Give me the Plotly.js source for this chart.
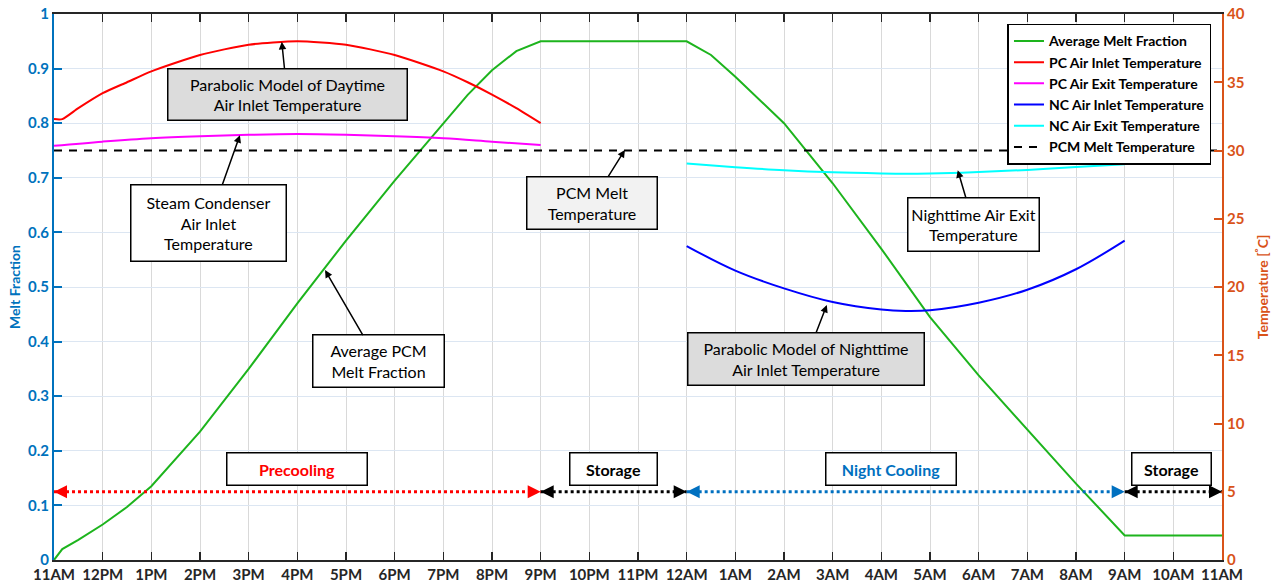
<!DOCTYPE html>
<html>
<head>
<meta charset="utf-8">
<script src="https://cdn.plot.ly/plotly-3.0.1.min.js"></script>
<style>html,body{margin:0;padding:0;background:#fff}#chart{width:1281px;height:582px}</style>
</head>
<body>
<div id="chart"></div>
<script>
// ---- data (hours after 11AM) ----
const tickLabels = ['11AM','12PM','1PM','2PM','3PM','4PM','5PM','6PM','7PM','8PM','9PM','10PM','11PM',
  '12AM','1AM','2AM','3AM','4AM','5AM','6AM','7AM','8AM','9AM','10AM','11AM'];
const fracTicks = [0, 0.1, 0.2, 0.3, 0.4, 0.5, 0.6, 0.7, 0.8, 0.9, 1];
const tempTicks = [0, 5, 10, 15, 20, 25, 30, 35, 40];

const meltHours = [0, 0.17, 0.5, 1, 1.5, 2, 3, 4, 5, 6, 7, 8, 8.5, 9, 9.5, 10, 13, 13.5, 14, 15, 16, 17, 18, 19, 20, 21, 22, 24];
const meltFraction = [0, 0.02, 0.037, 0.065, 0.097, 0.135, 0.235, 0.35, 0.47, 0.585, 0.695, 0.8, 0.852, 0.897, 0.932, 0.95,
  0.95, 0.925, 0.885, 0.80, 0.69, 0.57, 0.445, 0.338, 0.238, 0.14, 0.045, 0.045];

const pcHours = [0, 0.17, 0.5, 1, 1.5, 2, 3, 4, 5, 6, 7, 8, 8.5, 9, 9.5, 10];
const pcInletTemp = [32.3, 32.3, 33.1, 34.2, 35.0, 35.8, 37.0, 37.75, 38.0, 37.75, 37.0, 35.8, 35.0, 34.1, 33.1, 32.0];

const pcExitHours = [0, 1, 2, 3, 4, 5, 6, 7, 8, 9, 10];
const pcExitTemp = [30.35, 30.65, 30.9, 31.05, 31.15, 31.2, 31.15, 31.05, 30.9, 30.65, 30.4];

const ncHours = [13, 14, 15, 16, 17, 17.5, 18, 19, 20, 21, 22];
const ncInletTemp = [23.0, 21.2, 19.9, 18.9, 18.35, 18.25, 18.3, 18.85, 19.8, 21.3, 23.4];
const ncExitTemp = [29.05, 28.78, 28.55, 28.4, 28.32, 28.3, 28.32, 28.42, 28.58, 28.8, 29.0];

const pcmHours = [0, 24];
const pcmMeltTemp = [30, 30];

const phaseNames = ['Precooling', 'Storage', 'Night Cooling', 'Storage'];
const phaseStart = [0, 10, 13, 22];
const phaseEnd = [10, 13, 22, 24];

// ---- styles ----
const BLUE = '#0072BD', ORANGE = '#D95319';
const FONT = 'Lato, Carlito, "Open Sans", sans-serif';
const phaseColors = ['#FF0000', '#000000', '#0070C0', '#000000'];
const phaseLabelX = [5, 11.5, 17.2, 22.97];
const phaseBoxW = [135, 82, 125, 74];
const phaseY = 0.125;

const traces = [
  {x: meltHours, y: meltFraction, name: 'Average Melt Fraction', mode: 'lines', line: {color: '#1DB41D', width: 2}, yaxis: 'y'},
  {x: pcHours, y: pcInletTemp, name: 'PC Air Inlet Temperature', mode: 'lines', line: {color: '#FF0000', width: 2, shape: 'spline', smoothing: 0.6}, yaxis: 'y2'},
  {x: pcExitHours, y: pcExitTemp, name: 'PC Air Exit Temperature', mode: 'lines', line: {color: '#FF00FF', width: 2, shape: 'spline'}, yaxis: 'y2'},
  {x: ncHours, y: ncInletTemp, name: 'NC Air Inlet Temperature', mode: 'lines', line: {color: '#0000FF', width: 2, shape: 'spline'}, yaxis: 'y2'},
  {x: ncHours, y: ncExitTemp, name: 'NC Air Exit Temperature', mode: 'lines', line: {color: '#00FFFF', width: 2, shape: 'spline'}, yaxis: 'y2'},
  {x: pcmHours, y: pcmMeltTemp, name: 'PCM Melt Temperature', mode: 'lines', line: {color: '#000000', width: 2, dash: '8px,7px'}, yaxis: 'y2'}
];

const annotations = [];
phaseNames.forEach((nm, i) => {
  traces.push({x: [phaseStart[i], phaseEnd[i]], y: [phaseY, phaseY], mode: 'lines', showlegend: false, hoverinfo: 'skip',
    line: {color: phaseColors[i], width: 3, dash: 'dot'}, yaxis: 'y'});
  const head = {xref: 'x', yref: 'y', ay: 0, text: ' ', font: {size: 1}, borderpad: 0, showarrow: true,
    arrowhead: 2, arrowsize: 1.3, arrowwidth: 2, arrowcolor: phaseColors[i], standoff: 0};
  annotations.push(Object.assign({}, head, {x: phaseEnd[i], y: phaseY, ax: -9}));
  annotations.push(Object.assign({}, head, {x: phaseStart[i], y: phaseY, ax: 9}));
  annotations.push({x: phaseLabelX[i], y: 0.167, xref: 'x', yref: 'y', text: '<b>' + nm + '</b>', showarrow: false,
    font: {family: FONT, size: 16, color: phaseColors[i]}, bgcolor: '#ffffff', bordercolor: '#000', borderwidth: 1.5,
    borderpad: 2, width: phaseBoxW[i], height: 27});
});

function callout(text, cx, cy, tx, ty, w, h, bg) {
  annotations.push({x: tx, y: ty, ax: cx, ay: cy, xref: 'x', yref: 'y', axref: 'x', ayref: 'y', text: text,
    showarrow: true, arrowhead: 2, arrowsize: 1, arrowwidth: 1.5, arrowcolor: '#000', standoff: 0,
    font: {family: FONT, size: 16, color: '#000'}, bgcolor: bg, bordercolor: '#000', borderwidth: 1.5, borderpad: 2,
    width: w, height: h});
}
callout('Parabolic Model of Daytime<br>Air Inlet Temperature', 4.79, 0.853, 4.68, 0.949, 234, 46, '#DCDCDC');
callout('Steam Condenser<br>Air Inlet<br>Temperature', 3.18, 0.617, 3.82, 0.778, 150, 71, '#ffffff');
callout('Average PCM<br>Melt Fraction', 6.66, 0.364, 5.57, 0.531, 126, 47, '#ffffff');
callout('PCM Melt<br>Temperature', 11.05, 0.654, 11.73, 0.751, 125, 47, '#F2F2F2');
callout('Nighttime Air Exit<br>Temperature', 18.9, 0.614, 18.57, 0.714, 126, 48, '#ffffff');
callout('Parabolic Model of Nighttime<br>Air Inlet Temperature', 15.45, 0.368, 15.88, 0.467, 231, 47, '#DCDCDC');

const b = s => '<b>' + s + '</b>';
const layout = {
  width: 1281, height: 582,
  margin: {l: 54, r: 59, t: 14, b: 22},
  paper_bgcolor: '#fff', plot_bgcolor: '#fff',
  font: {family: FONT},
  showlegend: true,
  legend: {x: 0.991, y: 0.982, xanchor: 'right', yanchor: 'top', bgcolor: '#fff', bordercolor: '#000', borderwidth: 1.5,
    font: {family: FONT, size: 14, color: '#000', weight: 'bold'}, tracegroupgap: 0, itemwidth: 30},
  xaxis: {
    range: [0, 24], tickvals: tickLabels.map((_, i) => i), ticktext: tickLabels.map(b),
    showgrid: true, gridcolor: '#D9D9D9', gridwidth: 1, zeroline: false,
    showline: true, linecolor: '#262626', linewidth: 2, mirror: 'ticks',
    ticks: 'inside', ticklen: 8, tickwidth: 1.5, tickcolor: '#262626',
    tickfont: {family: FONT, size: 15, color: '#262626'}, automargin: false
  },
  yaxis: {
    range: [0, 1], tickvals: fracTicks, ticktext: fracTicks.map(v => b(String(v))),
    showgrid: true, gridcolor: '#DCE6F2', gridwidth: 1, zeroline: false,
    showline: true, linecolor: BLUE, linewidth: 2, ticks: 'inside', ticklen: 8, tickwidth: 2, tickcolor: BLUE,
    tickfont: {family: FONT, size: 15, color: BLUE},
    title: {text: '<b>Melt Fraction</b>', font: {family: FONT, size: 14, color: BLUE}, standoff: 4},
    automargin: false
  },
  yaxis2: {
    range: [0, 40], tickvals: tempTicks, ticktext: tempTicks.map(v => b(String(v))), overlaying: 'y', side: 'right',
    showgrid: false, zeroline: false,
    showline: true, linecolor: ORANGE, linewidth: 2, ticks: 'inside', ticklen: 8, tickwidth: 2, tickcolor: ORANGE,
    tickfont: {family: FONT, size: 15, color: ORANGE},
    title: {text: '<b>Temperature [<sup>°</sup>C]</b>', font: {family: FONT, size: 14, color: ORANGE}, standoff: 14},
    automargin: false
  },
  annotations: annotations
};

Plotly.newPlot('chart', traces, layout, {staticPlot: true, displayModeBar: false});
</script>
</body>
</html>
